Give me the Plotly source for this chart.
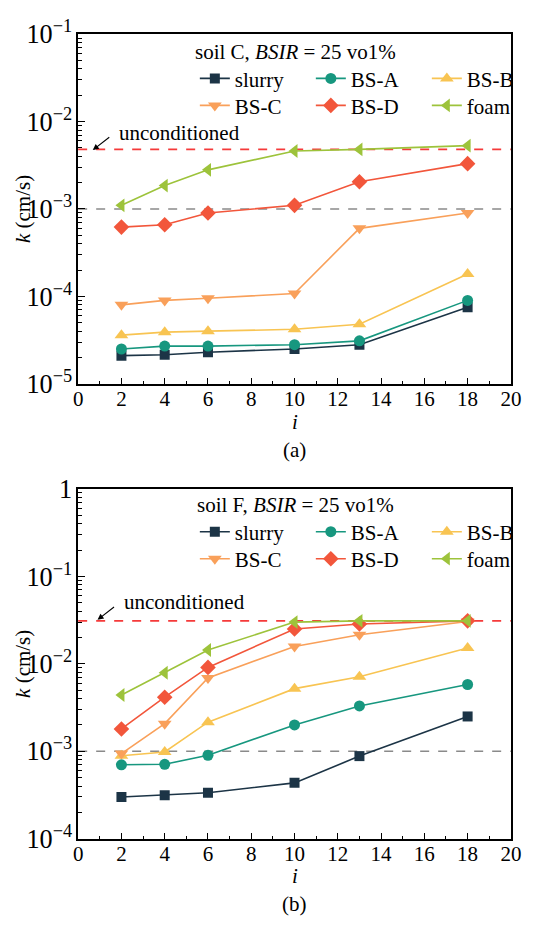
import plotly.graph_objects as go
from plotly.subplots import make_subplots

W, H = 543, 927

# hydraulic gradient
i_vals = [2, 4, 6, 10, 13, 18]

series_names = ["slurry", "BS-A", "BS-B", "BS-C", "BS-D", "foam"]

# permeability k (cm/s), soil C
k_soil_c_slurry = [2.1e-5, 2.15e-5, 2.3e-5, 2.5e-5, 2.8e-5, 7.5e-5]
k_soil_c_bsa = [2.5e-5, 2.7e-5, 2.7e-5, 2.8e-5, 3.1e-5, 9.0e-5]
k_soil_c_bsb = [3.6e-5, 3.9e-5, 4.0e-5, 4.2e-5, 4.8e-5, 1.8e-4]
k_soil_c_bsc = [8.0e-5, 9.0e-5, 9.5e-5, 1.08e-4, 6.0e-4, 9.0e-4]
k_soil_c_bsd = [6.2e-4, 6.6e-4, 9.0e-4, 1.1e-3, 2.05e-3, 3.3e-3]
k_soil_c_foam = [1.1e-3, 1.85e-3, 2.8e-3, 4.6e-3, 4.8e-3, 5.3e-3]

# permeability k (cm/s), soil F
k_soil_f_slurry = [3.0e-4, 3.15e-4, 3.35e-4, 4.35e-4, 8.8e-4, 2.5e-3]
k_soil_f_bsa = [7.0e-4, 7.1e-4, 9.0e-4, 2.0e-3, 3.3e-3, 5.8e-3]
k_soil_f_bsb = [8.9e-4, 9.8e-4, 2.15e-3, 5.2e-3, 7.1e-3, 1.52e-2]
k_soil_f_bsc = [9.4e-4, 2.07e-3, 6.9e-3, 1.58e-2, 2.15e-2, 3.05e-2]
k_soil_f_bsd = [1.8e-3, 4.15e-3, 9.1e-3, 2.5e-2, 2.85e-2, 3.1e-2]
k_soil_f_foam = [4.4e-3, 7.9e-3, 1.44e-2, 3.0e-2, 3.1e-2, 3.1e-2]

# reference levels
k_unconditioned = [4.8e-3, 3.1e-2]   # soil C, soil F
k_threshold = 1e-3

panel_titles = ["soil C, <i>BSIR</i> = 25 vo1%", "soil F, <i>BSIR</i> = 25 vo1%"]
panel_labels = ["(a)", "(b)"]
y_ranges = [[-5, -1], [-4, 0]]

soil_c = [k_soil_c_slurry, k_soil_c_bsa, k_soil_c_bsb, k_soil_c_bsc, k_soil_c_bsd, k_soil_c_foam]
soil_f = [k_soil_f_slurry, k_soil_f_bsa, k_soil_f_bsb, k_soil_f_bsc, k_soil_f_bsd, k_soil_f_foam]

colors = ["#1c3446", "#17977f", "#f8c452", "#f9a05a", "#f2563b", "#9dc33b"]
symbols = ["square", "circle", "triangle-up", "triangle-down", "diamond", "triangle-left"]
msizes = [10, 11, 12, 12, 12, 12]

FONT = "Liberation Serif"
FS = 21

# page-pixel layout helpers
def px(x):
    return x / W

def py(y):
    return 1 - y / H

x_left, x_right = 76.7, 530.3
panels_px = [(16.7, 379.3), (488.3, 851.0)]

fig = make_subplots(rows=2, cols=1)

legend_names = [["legend", "legend2"], ["legend3", "legend4"]]

for p, data in enumerate([soil_c, soil_f]):
    for s, name in enumerate(series_names):
        fig.add_trace(
            go.Scatter(
                x=i_vals, y=data[s], name=name, mode="lines+markers",
                line=dict(color=colors[s], width=1.6),
                marker=dict(symbol=symbols[s], size=msizes[s], color=colors[s]),
                legend=legend_names[p][s // 3],
                showlegend=True,
            ),
            row=p + 1, col=1,
        )

axis_common = dict(
    showline=True, linecolor="black", linewidth=1.5, mirror=True,
    ticks="inside", tickcolor="black", tickwidth=1.2, showgrid=False, zeroline=False,
    tickfont=dict(family=FONT, size=FS, color="black"),
)

for p in range(2):
    top, bot = panels_px[p]
    xa = "xaxis" if p == 0 else "xaxis2"
    ya = "yaxis" if p == 0 else "yaxis2"
    fig.update_layout(**{
        xa: dict(
            axis_common, domain=[px(x_left), px(x_right)], range=[0, 20],
            dtick=2, tick0=0, ticklen=6, ticklabelstandoff=-5,
            minor=dict(ticks="inside", dtick=1, ticklen=3, tickcolor="black", tickwidth=1.2),
        ),
        ya: dict(
            axis_common, domain=[py(bot), py(top)], type="log", range=y_ranges[p],
            dtick=1, exponentformat="power", ticklen=7,
            minor=dict(ticks="inside", dtick="D1", ticklen=4, tickcolor="black", tickwidth=1.2),
        ),
    })
    xref = "x" if p == 0 else "x2"
    yref = "y" if p == 0 else "y2"
    # reference levels
    fig.add_shape(type="line", xref=f"{xref} domain", yref=yref, x0=0, x1=1,
                  y0=k_unconditioned[p], y1=k_unconditioned[p],
                  line=dict(color="#f53a3a", width=1.6, dash="dash"), layer="below")
    fig.add_shape(type="line", xref=f"{xref} domain", yref=yref, x0=0, x1=1,
                  y0=k_threshold, y1=k_threshold,
                  line=dict(color="#8a8a8a", width=1.4, dash="dash"), layer="below")

annotations = []
# per-panel text
title_y = [35, 505]
uncond_text = [(117, 119), (123, 606)]
arrow_head = [(92, 137), (97, 624)]
i_label_top = [404, 875.5]     # top edge of the "i" label box
label_box = 29                 # height of a one-line label box
for p in range(2):
    top, bot = panels_px[p]
    annotations.append(dict(text=panel_titles[p], x=px(305), y=py(title_y[p]), xref="paper", yref="paper",
                            showarrow=False, xanchor="center", yanchor="middle",
                            font=dict(family=FONT, size=FS, color="black")))
    annotations.append(dict(text="unconditioned", x=px(uncond_text[p][0]), y=py(uncond_text[p][1]),
                            xref="paper", yref="paper", showarrow=False, xanchor="left", yanchor="middle",
                            font=dict(family=FONT, size=FS, color="black")))
    annotations.append(dict(text="", x=px(arrow_head[p][0]), y=py(arrow_head[p][1]), xref="paper", yref="paper",
                            showarrow=True, ax=18, ay=-14, arrowhead=2, arrowsize=1.1, arrowwidth=1.1,
                            arrowcolor="black", standoff=0))
    annotations.append(dict(text="<i>k</i> (cm/s)", x=px(19), y=py((top + bot) / 2), xref="paper", yref="paper",
                            showarrow=False, textangle=-90, xanchor="center", yanchor="middle",
                            font=dict(family=FONT, size=FS, color="black")))
    annotations.append(dict(text="<i>i</i>", x=px((x_left + x_right) / 2), y=py(i_label_top[p]), xref="paper",
                            yref="paper", showarrow=False, xanchor="center", yanchor="top",
                            font=dict(family=FONT, size=FS, color="black")))
    annotations.append(dict(text=panel_labels[p], x=px((x_left + x_right) / 2),
                            y=py(i_label_top[p] + label_box), xref="paper", yref="paper", showarrow=False,
                            xanchor="center", yanchor="top",
                            font=dict(family=FONT, size=FS, color="black")))

legend_common = dict(
    orientation="h", entrywidth=71, entrywidthmode="pixels",
    font=dict(family=FONT, size=FS, color="black"), bgcolor="rgba(0,0,0,0)",
    xanchor="left", yanchor="middle", itemclick=False, itemdoubleclick=False,
    tracegroupgap=0,
)
legend_rows_y = [63, 91, 533, 561]
legend_x = 199

fig.update_layout(
    width=W, height=H,
    margin=dict(l=0, r=0, t=0, b=0),
    paper_bgcolor="white", plot_bgcolor="white",
    font=dict(family=FONT, size=FS, color="black"),
    annotations=annotations,
    legend=dict(legend_common, x=px(legend_x), y=py(legend_rows_y[0])),
    legend2=dict(legend_common, x=px(legend_x), y=py(legend_rows_y[1])),
    legend3=dict(legend_common, x=px(legend_x), y=py(legend_rows_y[2])),
    legend4=dict(legend_common, x=px(legend_x), y=py(legend_rows_y[3])),
)

fig.write_html("out.html")
